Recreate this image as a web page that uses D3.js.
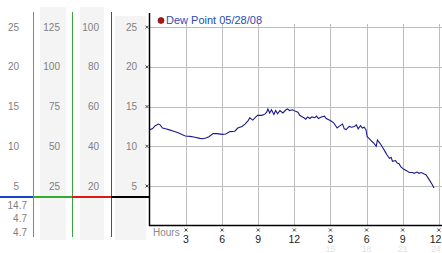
<!DOCTYPE html>
<html><head><meta charset="utf-8">
<script src="https://cdn.jsdelivr.net/npm/d3@7/dist/d3.min.js"></script>
<style>body{margin:0;background:#fff;}svg{display:block;}</style>
</head><body>
<script>
// ---- data ----
const hours = [0,0.2,0.45,0.7,0.85,1.05,1.3,1.55,1.85,2.35,2.7,2.95,3.35,3.75,4.15,4.4,4.65,4.9,5.25,5.6,6.0,6.3,6.65,7.05,7.3,7.65,7.9,8.15,8.3,8.55,8.8,8.95,9.3,9.55,9.7,9.8,9.95,10.1,10.3,10.45,10.6,10.8,11.05,11.3,11.45,11.6,11.85,12.1,12.3,12.45,12.6,12.8,12.95,13.1,13.3,13.45,13.7,13.85,14.0,14.25,14.5,14.65,14.9,15.15,15.3,15.55,15.8,16.0,16.15,16.3,16.55,16.75,17.0,17.15,17.3,17.5,17.65,17.8,17.95,18.05,18.2,18.45,18.6,18.8,18.9,19.05,19.2,19.4,19.55,19.7,19.9,20.05,20.15,20.4,20.55,20.7,20.85,21.1,21.35,21.55,21.8,21.95,22.2,22.35,22.55,22.8,22.95,23.2,23.45,23.6];
const dewPoint = [12.1,12.2,12.6,12.8,12.7,12.3,12.2,12.1,11.95,11.7,11.45,11.3,11.25,11.15,11.0,10.95,11.05,11.2,11.6,11.6,11.5,11.55,11.85,11.9,12.3,12.5,12.8,13.2,13.6,13.3,13.7,13.9,13.9,14.05,14.3,14.7,14.2,14.6,14.0,14.5,14.1,14.5,14.2,14.6,14.7,14.5,14.6,14.4,14.3,13.9,13.75,13.6,13.4,13.7,13.5,13.7,13.6,13.8,13.5,13.7,13.8,13.5,13.3,13.1,12.9,12.3,12.6,12.8,12.2,12.1,12.5,12.4,12.5,12.7,12.2,12.6,12.3,12.4,12.1,11.2,11.0,10.6,10.4,10.0,10.8,10.5,10.2,9.7,9.3,8.9,8.5,8.6,8.1,8.2,7.9,7.8,7.4,7.1,6.9,6.7,6.7,6.6,6.75,6.6,6.7,6.5,6.4,5.8,5.2,4.75];
const col1Ticks = [25,20,15,10,5];
const col2Ticks = [125,100,75,50,25];
const col3Ticks = [100,80,60,40,20];
const col4Ticks = [25,20,15,10,5];
const bottomLabels = ["14.7","4.7","4.7"];
const hourTicks = [3,6,9,12,15,18,21,24];
const hourLabels = ["3","6","9","12","3","6","9","12"];
const faintTicks = [15,18,21,24];
const faintLabels = ["15","18","21","24"];
const legendLabel = "Dew Point 05/28/08";

// ---- layout ----
const W = 442, H = 253;
const svg = d3.select("body").append("svg").attr("width", W).attr("height", H);
const x = d3.scaleLinear().domain([0,24]).range([149.9, 438.8]);
const y = d3.scaleLinear().domain([0,25]).range([225.7, 27.2]);
const y2 = d3.scaleLinear().domain([0,125]).range([225.7, 27.2]);
const y3 = d3.scaleLinear().domain([0,100]).range([225.7, 27.2]);
const font = "'Liberation Sans', Arial, sans-serif";

// gray column backgrounds
[[40,7,26,233],[80,7,24,233],[115,16,31,224]].forEach(r=>{
  svg.append("rect").attr("x",r[0]).attr("y",r[1]).attr("width",r[2]).attr("height",r[3]).attr("fill","#f4f4f4");
});

// plot gridlines
const g = svg.append("g");
g.selectAll("line.h").data(col4Ticks).join("line")
  .attr("x1",149).attr("x2",442).attr("y1",d=>Math.round(y(d))+0.5).attr("y2",d=>Math.round(y(d))+0.5)
  .attr("stroke","#bdbdbd").attr("stroke-width",1);
g.selectAll("line.v").data(hourTicks).join("line")
  .attr("x1",d=>Math.round(x(d))+0.5).attr("x2",d=>Math.round(x(d))+0.5).attr("y1",24).attr("y2",225)
  .attr("stroke","#bdbdbd").attr("stroke-width",1);

// vertical colored lines
[[33.5,"#3a9cc8",12,237],[72.5,"#3aa53a",12,237],[111.5,"#b02a2a",12,237]].forEach(l=>{
  svg.append("line").attr("x1",l[0]).attr("x2",l[0]).attr("y1",l[2]).attr("y2",l[3]).attr("stroke",l[1]).attr("stroke-width",1);
});
// plot axes
svg.append("line").attr("x1",149.5).attr("x2",149.5).attr("y1",13).attr("y2",226).attr("stroke","#000").attr("stroke-width",1.5);
svg.append("line").attr("x1",149).attr("x2",442).attr("y1",225.5).attr("y2",225.5).attr("stroke","#000").attr("stroke-width",1.5);

// horizontal colored strip
[[0,33,"#1c44cc"],[33,72,"#2fae2f"],[72,111,"#dd1a1a"],[111,149,"#000"]].forEach(s=>{
  svg.append("line").attr("x1",s[0]).attr("x2",s[1]).attr("y1",197).attr("y2",197).attr("stroke",s[2]).attr("stroke-width",2);
});

// column labels
function colLabels(ticks, scale, xr){
  svg.append("g").selectAll("text").data(ticks).join("text")
    .attr("x",xr).attr("y",d=>scale(d)).attr("dy","0.35em").attr("text-anchor","end")
    .attr("font-family",font).attr("font-size",10).attr("fill","#808080").text(d=>d);
}
colLabels(col1Ticks, y, 19);
colLabels(col2Ticks, y2, 60);
colLabels(col3Ticks, y3, 99);
colLabels(col4Ticks, y, 137);

// bottom left labels
svg.append("g").selectAll("text").data(bottomLabels).join("text")
  .attr("x",27).attr("y",(d,i)=>205+i*13.5).attr("dy","0.35em").attr("text-anchor","end")
  .attr("font-family",font).attr("font-size",10).attr("fill","#808080").text(d=>d);

// small x tick marks
function cross(cx, cy){
  svg.append("path").attr("d",`M${cx-1.5},${cy-1.5}L${cx+1.5},${cy+1.5}M${cx+1.5},${cy-1.5}L${cx-1.5},${cy+1.5}`)
    .attr("stroke","#333").attr("stroke-width",0.9).attr("fill","none");
}
col4Ticks.forEach(d=>cross(147, y(d)));
hourTicks.forEach(d=>cross(x(d), 230));

// x labels
svg.append("text").attr("x",153).attr("y",232).attr("dy","0.35em").attr("font-family",font).attr("font-size",10).attr("fill","#8a8a8a").text("Hours");
svg.append("g").selectAll("text").data(hourTicks).join("text")
  .attr("x",d=>Math.min(x(d), 435.5)).attr("y",239).attr("dy","0.35em").attr("text-anchor","middle")
  .attr("font-family",font).attr("font-size",10.5).attr("fill","#222").text((d,i)=>hourLabels[i]);
svg.append("g").selectAll("text").data(faintTicks).join("text")
  .attr("x",d=>Math.min(x(d), 436)).attr("y",249).attr("dy","0.35em").attr("text-anchor","middle")
  .attr("font-family",font).attr("font-size",8.5).attr("fill","#e2e2e2").text((d,i)=>faintLabels[i]);

// data line
const line = d3.line().x((d,i)=>x(hours[i])).y(d=>y(d));
svg.append("path").datum(dewPoint).attr("d",line).attr("fill","none").attr("stroke","#1a1a8c").attr("stroke-width",1.1);

// legend
svg.append("circle").attr("cx",161).attr("cy",20.5).attr("r",3).attr("fill","#b01515").attr("stroke","#600").attr("stroke-width",0.6);
svg.append("text").attr("x",166).attr("y",20.5).attr("dy","0.35em").attr("font-family",font).attr("font-size",11).attr("fill","#2a4bb8").text(legendLabel);
</script>
</body></html>
